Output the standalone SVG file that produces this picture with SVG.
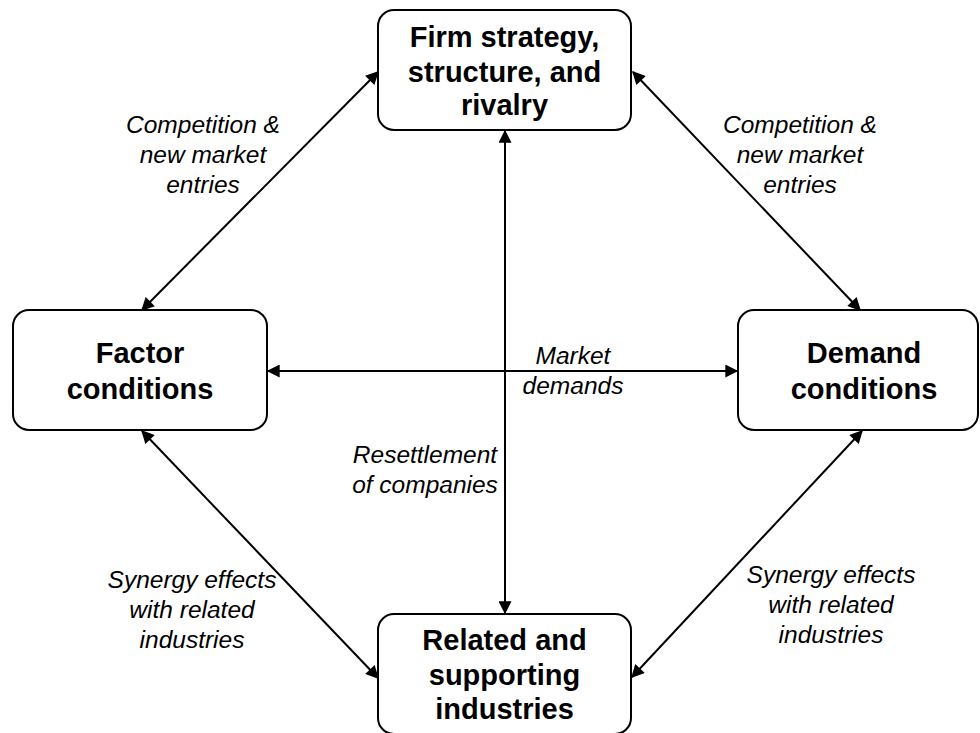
<svg xmlns="http://www.w3.org/2000/svg" width="980" height="733" viewBox="0 0 980 733">
<defs>
<marker id="ah" viewBox="0 0 10 10" refX="9" refY="5" markerWidth="7" markerHeight="6.5" orient="auto-start-reverse" markerUnits="strokeWidth">
<path d="M0,0 L10,5 L0,10 Z" fill="#000"/>
</marker>
<style>
.box{fill:#fff;stroke:#000;stroke-width:2}
.t{font-family:"Liberation Sans",Arial,sans-serif;font-weight:bold;font-size:29px;text-anchor:middle;fill:#000}
.l{font-family:"Liberation Sans",Arial,sans-serif;font-style:italic;font-size:24.5px;text-anchor:middle;fill:#000}
.c{fill:none;stroke:#000;stroke-width:2;marker-start:url(#ah);marker-end:url(#ah)}
</style>
</defs>
<rect width="980" height="733" fill="#fff"/>
<g id="connectors">
<line class="c" x1="142" y1="310" x2="378" y2="72"/>
<line class="c" x1="633" y1="72" x2="860" y2="310"/>
<line class="c" x1="505" y1="131" x2="505" y2="613"/>
<line class="c" x1="268" y1="371" x2="737" y2="371"/>
<line class="c" x1="142" y1="431" x2="378" y2="678"/>
<line class="c" x1="862" y1="431" x2="632" y2="677"/>
</g>
<g id="labels">
<text class="l" x="203" y="133">Competition &amp;</text>
<text class="l" x="203" y="163">new market</text>
<text class="l" x="203" y="193">entries</text>
<text class="l" x="800" y="133">Competition &amp;</text>
<text class="l" x="800" y="163">new market</text>
<text class="l" x="800" y="193">entries</text>
<text class="l" x="573" y="364">Market</text>
<text class="l" x="573" y="394">demands</text>
<text class="l" x="425" y="463">Resettlement</text>
<text class="l" x="425" y="493">of companies</text>
<text class="l" x="192" y="588">Synergy effects</text>
<text class="l" x="192" y="618">with related</text>
<text class="l" x="192" y="648">industries</text>
<text class="l" x="831" y="583">Synergy effects</text>
<text class="l" x="831" y="613">with related</text>
<text class="l" x="831" y="643">industries</text>
</g>
<g id="firm">
<rect class="box" x="378" y="10" width="253" height="120" rx="16"/>
<text class="t" x="504.5" y="47">Firm strategy,</text>
<text class="t" x="504.5" y="81.5">structure, and</text>
<text class="t" x="504.5" y="115">rivalry</text>
</g>
<g id="factor">
<rect class="box" x="13" y="310" width="254" height="120" rx="16"/>
<text class="t" x="140" y="363">Factor</text>
<text class="t" x="140" y="399">conditions</text>
</g>
<g id="demand">
<rect class="box" x="738" y="310" width="240" height="120" rx="16"/>
<text class="t" x="864" y="363">Demand</text>
<text class="t" x="864" y="399">conditions</text>
</g>
<g id="related">
<rect class="box" x="378" y="614" width="253" height="120" rx="16"/>
<text class="t" x="504.5" y="650">Related and</text>
<text class="t" x="504.5" y="685">supporting</text>
<text class="t" x="504.5" y="719">industries</text>
</g>
</svg>
